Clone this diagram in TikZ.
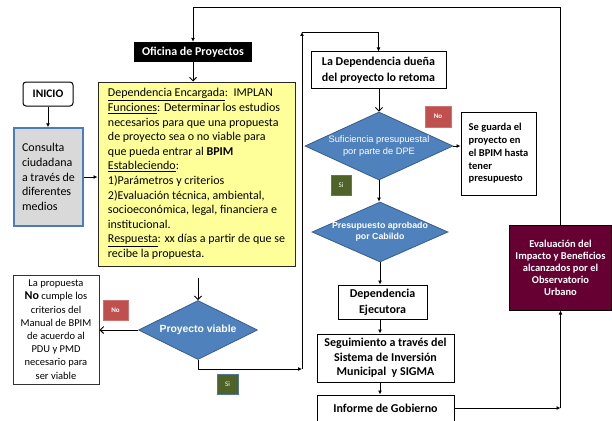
\documentclass[tikz,border=0pt]{standalone}
\usepackage{fontspec}
\setmainfont{Carlito}
\newfontfamily\arialf{Liberation Sans}
\usetikzlibrary{shapes.geometric,arrows.meta}
\definecolor{yel}{HTML}{FFFF99}
\definecolor{dblue}{HTML}{4F81BD}
\definecolor{dblueb}{HTML}{385D8A}
\definecolor{cgray}{HTML}{D9D9D9}
\definecolor{cborder}{HTML}{4A7EBB}
\definecolor{nored}{HTML}{C0504D}
\definecolor{siolive}{HTML}{4F6228}
\definecolor{maroonc}{HTML}{660033}
\begin{document}
\begin{tikzpicture}[x=1pt,y=-1pt,
  box/.style={draw=black, line width=1pt, fill=white, inner sep=0pt, align=center, font=\fontsize{12}{15}\selectfont\bfseries},
  conn/.style={line width=0.9pt, -{Latex[length=4pt,width=4pt]}},
  barb/.style={line width=0.9pt, -{Straight Barb[length=3.5pt,width=7pt]}},
  plainln/.style={line width=0.9pt},
  dia/.style={diamond, draw=dblueb, fill=dblue, line width=0.8pt, inner sep=0pt},
  dtxt/.style={text=white, align=center, inner sep=0pt},
  nobadge/.style={fill=nored, draw=nored!80!white, line width=0.5pt, text=white, inner sep=0pt, font=\fontsize{7}{8}\selectfont\bfseries},
  sibadge/.style={fill=siolive, draw=dblue!70!siolive, line width=0.6pt, text=white, inner sep=0pt, font=\fontsize{7}{8}\selectfont}
]
\useasboundingbox (0,0) rectangle (612,420);

% nodes
\node[fill=black, text=white, inner sep=0pt, minimum width=118pt, minimum height=20pt, font=\fontsize{12}{14}\selectfont\bfseries] (ofi) at (193,52) {Oficina de Proyectos};

\node[draw=black!85, fill=yel, line width=1pt, minimum width=197pt, minimum height=184pt, align=left, inner xsep=5pt, inner ysep=0pt, font=\fontsize{12}{14.6}\selectfont] (yel) at (196.5,174) {\underline{Dependencia Encargada}:\ \ IMPLAN\\
\underline{Funciones}: Determinar los estudios\\
necesarios para que una propuesta\\
de proyecto sea o no viable para\\
que pueda entrar al \textbf{BPIM}\\
\underline{Estableciendo}:\\
1)Parámetros y criterios\\
2)Evaluación técnica, ambiental,\\
socioeconómica, legal, financiera e\\
institucional.\\
\underline{Respuesta}: xx días a partir de que se\\
recibe la propuesta.};

\node[draw=black, rounded corners=3pt, line width=1pt, fill=white, inner sep=0pt, minimum width=50pt, minimum height=24pt, font=\fontsize{11.5}{13}\selectfont\bfseries] (ini) at (48,94) {INICIO};

\node[draw=cborder, fill=cgray, line width=1.5pt, minimum width=69pt, minimum height=98pt, inner sep=0pt, align=left, font=\fontsize{12}{14.6}\selectfont] (con) at (48.5,177) {Consulta\\ciudadana\\a través de\\diferentes\\medios};

\node[draw=black!80, line width=1pt, fill=white, minimum width=86pt, minimum height=109pt, inner sep=0pt, align=center, font=\fontsize{10.5}{13.2}\selectfont] (lft) at (56,329.5) {La propuesta\\{\fontsize{12}{13.2}\selectfont\bfseries No} cumple los\\criterios del\\Manual de BPIM\\de acuerdo al\\PDU y PMD\\necesario para\\ser viable};

\node[dia, minimum width=119pt, minimum height=59pt] (d1) at (198,330) {};
\node[dtxt, font=\arialf\fontsize{10.4}{13}\selectfont\bfseries] (d1t) at (d1) {Proyecto viable};

\node[nobadge, minimum width=25pt, minimum height=20pt] (no1) at (115.5,310) {No};
\node[sibadge, minimum width=21pt, minimum height=20pt] (si1) at (227.5,384) {Si};

\node[box, minimum width=135pt, minimum height=36pt, font=\fontsize{12}{16}\selectfont\bfseries] (dep) at (378.5,70) {La Dependencia dueña\\del proyecto lo retoma};

\node[dia, minimum width=148pt, minimum height=68pt] (d2) at (379,146) {};
\node[dtxt, font=\arialf\fontsize{9.3}{11.5}\selectfont] (d2t) at (d2) {Suficiencia presupuestal\\por parte de DPE};

\node[nobadge, minimum width=26pt, minimum height=21pt] (no2) at (438,116.5) {No};
\node[sibadge, minimum width=20pt, minimum height=20pt] (si2) at (341,185) {Si};

\node[box, align=left, minimum width=75pt, minimum height=83pt, font=\fontsize{10.5}{12.8}\selectfont\bfseries] (sg) at (498.5,153.5) {Se guarda el\\proyecto en\\el BPIM hasta\\tener\\presupuesto};

\node[dia, minimum width=136pt, minimum height=60pt] (d3) at (380,232) {};
\node[dtxt, font=\arialf\fontsize{8.8}{11}\selectfont\bfseries] (d3t) at (d3) {Presupuesto aprobado\\por Cabildo};

\node[box, minimum width=89pt, minimum height=34pt, font=\fontsize{12}{16}\selectfont\bfseries] (eje) at (382.5,302) {Dependencia\\Ejecutora};
\node[box, minimum width=137pt, minimum height=48pt, font=\fontsize{12}{14.5}\selectfont\bfseries] (seg) at (385.5,358) {Seguimiento a través del\\Sistema de Inversión\\Municipal\ \ y SIGMA};
\node[box, minimum width=137pt, minimum height=26pt] (inf) at (385.5,408) {Informe de Gobierno};

\node[draw=black, line width=1pt, fill=maroonc, text=white, inner sep=0pt, minimum width=102pt, minimum height=85pt, align=center, font=\fontsize{10.5}{12}\selectfont\bfseries] (ev) at (560.5,267.5) {Evaluación del\\Impacto y Beneficios\\alcanzados por el\\Observatorio\\Urbano};

% helper coordinates
\coordinate (t1) at (560,7);
\coordinate (ys) at (198,278);
\coordinate (j1) at (302,369);
\coordinate (j2) at (302,32);
\coordinate (colx) at (380,0);

% connectors
\draw[conn] (ev.north) -- (ev.north |- t1) -| (ofi.north);
\draw[barb] (ofi.south) -- (ofi.south |- yel.north);
\draw[conn] (ini.south) -- (ini.south |- con.north);
\draw[conn] (con.east) -- (con.east -| yel.west);
\draw[barb] (ys) -- (d1.north);
\draw[barb] (d1.west) -- (d1.west -| lft.east);
\draw[conn] (d1.south) |- (j1);
\draw[conn] (j1) -- (j2);
\draw[conn] (j2) -| (dep.north);
\draw[barb] (dep.south -| d2.north) -- (d2.north);
\draw[conn] (d2.east) -- (d2.east -| sg.west);
\draw[conn] (d2.south) -- (d2.south |- d3.north);
\draw[conn] (d3.south) -- (d3.south |- eje.north);
\draw[conn] (eje.south -| colx) -- (seg.north -| colx);
\draw[conn] (seg.south -| colx) -- (inf.north -| colx);
\coordinate (b1) at (inf.east -| ev.south);
\draw[conn] (inf.east) -- (b1);
\draw[conn] (b1) -- (ev.south);
\end{tikzpicture}
\end{document}
